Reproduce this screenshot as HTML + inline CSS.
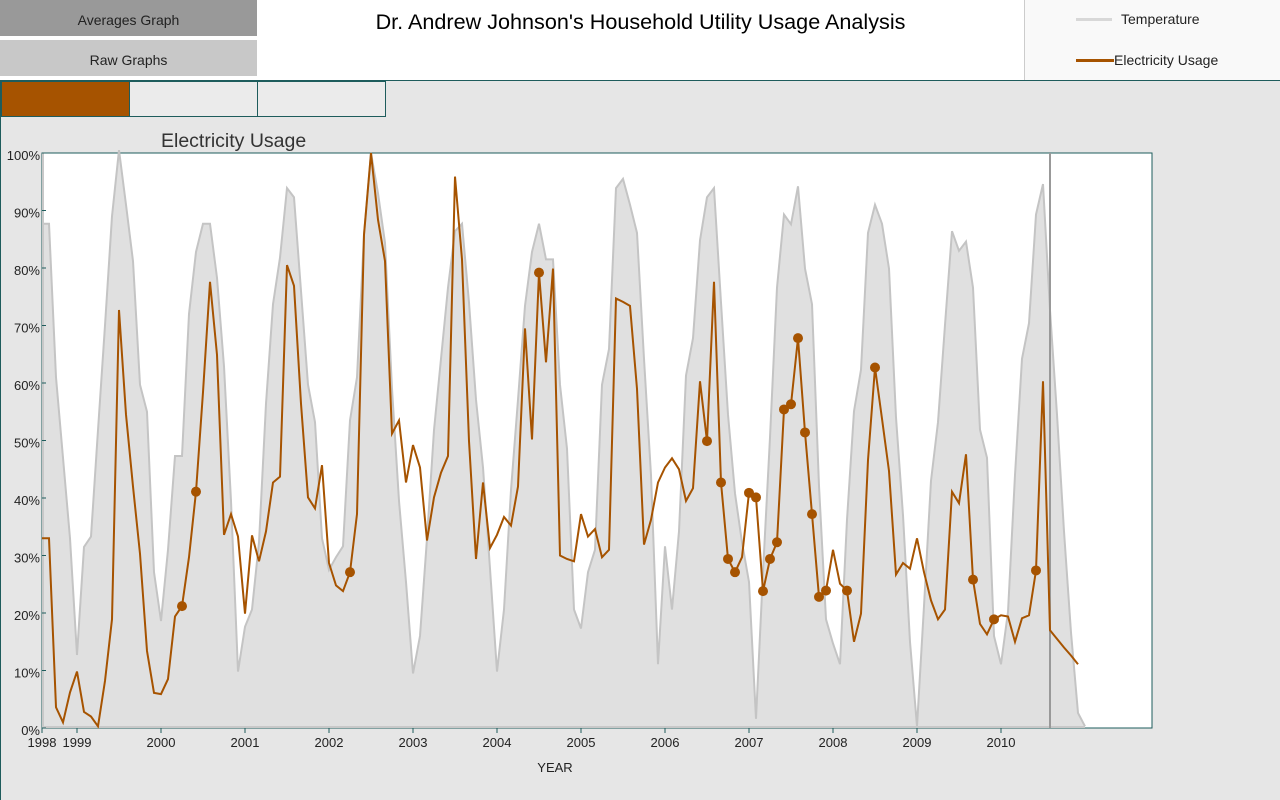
<!DOCTYPE html>
<html><head><meta charset="utf-8">
<style>
body{margin:0;width:1280px;height:800px;overflow:hidden;background:#fff;font-family:"Liberation Sans",sans-serif;position:relative}
.btn{position:absolute;left:0;width:257px;height:36px;line-height:40px;text-align:center;font-size:14px;color:#222}
#title{position:absolute;left:257px;width:767px;top:9px;text-align:center;font-size:21.6px;color:#000}
#legend{position:absolute;left:1024px;top:0;width:256px;height:80px;background:#f9f9f9;border-left:1px solid #ccc;box-sizing:border-box}
.lg{position:absolute;font-size:14px;color:#222}
.lgl{position:absolute;height:3px}
#panel{position:absolute;left:0;top:80px;width:1280px;height:720px;background:#e6e6e6;border-top:1px solid #1e5c5c;border-left:1px solid #1e5c5c;box-sizing:border-box}
.tab{position:absolute;top:0;height:36px;width:127px;border:1px solid #1e5c5c;box-sizing:border-box;background:#ebebeb}
</style></head><body>
<div class="btn" style="top:0;background:#999">Averages Graph</div>
<div class="btn" style="top:40px;background:#c8c8c8">Raw Graphs</div>
<div id="title">Dr. Andrew Johnson's Household Utility Usage Analysis</div>
<div id="legend">
 <div class="lgl" style="left:51px;top:18px;width:36px;background:#d8d8d8"></div>
 <div class="lg" style="left:96px;top:11px">Temperature</div>
 <div class="lgl" style="left:51px;top:59px;width:38px;background:#a65300"></div>
 <div class="lg" style="left:89px;top:52px">Electricity Usage</div>
</div>
<div id="panel">
 <div class="tab" style="left:0;width:129px;background:#a65300"></div>
 <div class="tab" style="left:128px;width:129px"></div>
 <div class="tab" style="left:256px;width:129px"></div>
</div>
<svg id="chart" width="1280" height="800" style="position:absolute;left:0;top:0" xmlns="http://www.w3.org/2000/svg"></svg>
<script>
const startYear = 1998, startMonth = 7; // Aug 1998 (0-based month)
const tempValues = [87.7,87.7,61,47,33,12.7,31.5,33.3,51.8,70,89,100.5,91,81.2,59.7,55,27.1,18.6,31,47.3,47.3,72,82.8,87.7,87.7,78.3,62.9,39.5,9.8,17.6,20.6,32.3,56.4,73.7,81.8,93.9,92.3,76,59.7,53.2,33,27.5,29.7,31.6,53.5,61,85.8,100,93,84.4,59,39.5,25.4,9.5,16,33,51.8,64.2,76.6,86.4,87.7,74,57.1,45.3,27.7,9.8,20.6,41.4,57.1,73.4,82.8,87.7,81.5,81.5,59.7,48.6,20.6,17.3,27.1,31,59.7,65.9,93.9,95.5,91,86.1,64.2,44,11.1,31.6,20.6,34.2,61.3,67.8,84.8,92.3,93.9,74,54.5,40.8,32.3,25.4,1.6,27.1,50.5,76.6,89.3,87.6,94.2,79.9,73.7,42.1,18.9,14.7,11.1,36.2,55.1,62.3,86.1,91,87.7,79.9,54,37,15,0.3,21.2,43,53.2,70.1,86.4,83,84.6,76.6,51.9,47,16,11.1,20.2,44,64.2,70.4,89.3,94.6,72.7,54.5,34.2,16.6,2.6,0.3];
const elecValues = [33,33,3.6,1,6.2,9.8,2.8,2,0.3,8.2,18.9,72.7,54.5,42,30.3,13.4,6.1,5.9,8.5,19.4,21.2,29.7,41.1,58.4,77.6,64.9,33.6,37.2,33.3,19.9,33.5,29,34.2,42.7,43.7,80.5,76.9,56.4,40.1,38.2,45.7,28.7,24.8,23.8,27.1,37.2,85.8,100,88.4,81.2,51.2,53.5,42.7,49.2,45.3,32.6,40.1,44.4,47.3,95.9,81.5,49.9,29.4,42.7,31.3,33.6,36.7,35.2,42,69.5,50.2,79.2,63.6,79.9,30,29.4,29,37.2,33.3,34.6,29.7,31,74.7,74.1,73.4,59,31.9,36.2,42.7,45.3,46.9,45,39.5,41.7,60.3,49.9,77.6,42.7,29.4,27.1,29.7,40.9,40.1,23.8,29.4,32.3,55.4,56.3,67.8,51.4,37.2,22.8,23.9,31,25.1,23.9,15,19.9,46.6,62.7,53.8,44.7,26.7,28.7,27.7,33,27.1,22.2,18.9,20.6,41.1,39.1,47.6,25.8,18.1,16.3,18.9,19.6,19.4,15,19.1,19.6,27.4,60.3,17,15.5,14,12.6,11.1];
const flaggedIdx = [20,22,44,71,95,97,98,99,101,102,103,104,105,106,107,108,109,110,111,112,115,119,133,136,142];
const markerIdx = 144;
const yTicks = [0,10,20,30,40,50,60,70,80,90,100];
const yTickLabels = ["0%","10%","20%","30%","40%","50%","60%","70%","80%","90%","100%"];
const xYears = [1999,2000,2001,2002,2003,2004,2005,2006,2007,2008,2009,2010];

const NS="http://www.w3.org/2000/svg", svg=document.getElementById('chart');
const L=42,R=1152,T=153,B=728;
function xOfIndex(i){return L+i*7;}
function xOfYear(y){return L+((y-startYear)*12-startMonth)*7;}
function yOf(v){return B-(v/100)*(B-T);}
function mk(tag,attrs){const e=document.createElementNS(NS,tag);for(const k in attrs)e.setAttribute(k,attrs[k]);svg.appendChild(e);return e;}

const t=mk('text',{x:161,y:147,'font-size':19.5,fill:'#333','font-family':'Liberation Sans, sans-serif'});
t.textContent='Electricity Usage';



const bg=mk('rect',{x:L,y:T,width:R-L,height:B-T,fill:'#fff',stroke:'#1e5c5c','stroke-width':1});



let tp=tempValues.map((v,i)=>xOfIndex(i)+','+yOf(v).toFixed(1));
const area=mk('polygon',{points:L+','+B+' '+tp.join(' ')+' '+xOfIndex(tempValues.length-1)+','+B,fill:'#e0e0e0',stroke:'none'});


const tl=mk('polyline',{points:tp.join(' '),fill:'none',stroke:'#c4c4c4','stroke-width':2});


const base=mk('line',{x1:L,y1:B-1,x2:xOfIndex(tempValues.length-1),y2:B-1,stroke:'#c8c8c8','stroke-width':2});


const la=mk('line',{x1:L+1,y1:T,x2:L+1,y2:B,stroke:'#c8c8c8','stroke-width':2});



const mx=xOfIndex(markerIdx);
const ml=mk('line',{x1:mx,y1:T,x2:mx,y2:B,stroke:'#999','stroke-width':2});



const el=mk('polyline',{points:elecValues.map((v,i)=>xOfIndex(i)+','+yOf(v).toFixed(1)).join(' '),fill:'none',stroke:'#a65300','stroke-width':2,'stroke-linejoin':'miter'});


flaggedIdx.forEach(i=>{
 const c=mk('circle',{cx:xOfIndex(i),cy:yOf(elecValues[i]),r:5,fill:'#a65300'});
 
 
});

yTicks.forEach((v,i)=>{
 const y=yOf(v);
 const k=mk('line',{x1:L,y1:y,x2:L+4,y2:y,stroke:'#1e5c5c'});
 
 
 const tx=mk('text',{x:40,y:y+7,'font-size':13,'text-anchor':'end',fill:'#222','font-family':'Liberation Sans, sans-serif'});
 tx.textContent=yTickLabels[i];
 
 
});
const x0=mk('text',{x:L,y:747,'font-size':13,'text-anchor':'middle',fill:'#222','font-family':'Liberation Sans, sans-serif'});
x0.textContent=String(startYear);


xYears.forEach(yr=>{
 const x=xOfYear(yr);
 const k=mk('line',{x1:x,y1:B,x2:x,y2:B+5,stroke:'#1e5c5c'});
 
 
 const tx=mk('text',{x:x,y:747,'font-size':13,'text-anchor':'middle',fill:'#222','font-family':'Liberation Sans, sans-serif'});
 tx.textContent=String(yr);
 
 
});
const k0=mk('line',{x1:L,y1:B,x2:L,y2:B+5,stroke:'#1e5c5c'});


const xt=mk('text',{x:555,y:772,'font-size':13,'text-anchor':'middle',fill:'#222','font-family':'Liberation Sans, sans-serif'});
xt.textContent='YEAR';


</script>
</body></html>
